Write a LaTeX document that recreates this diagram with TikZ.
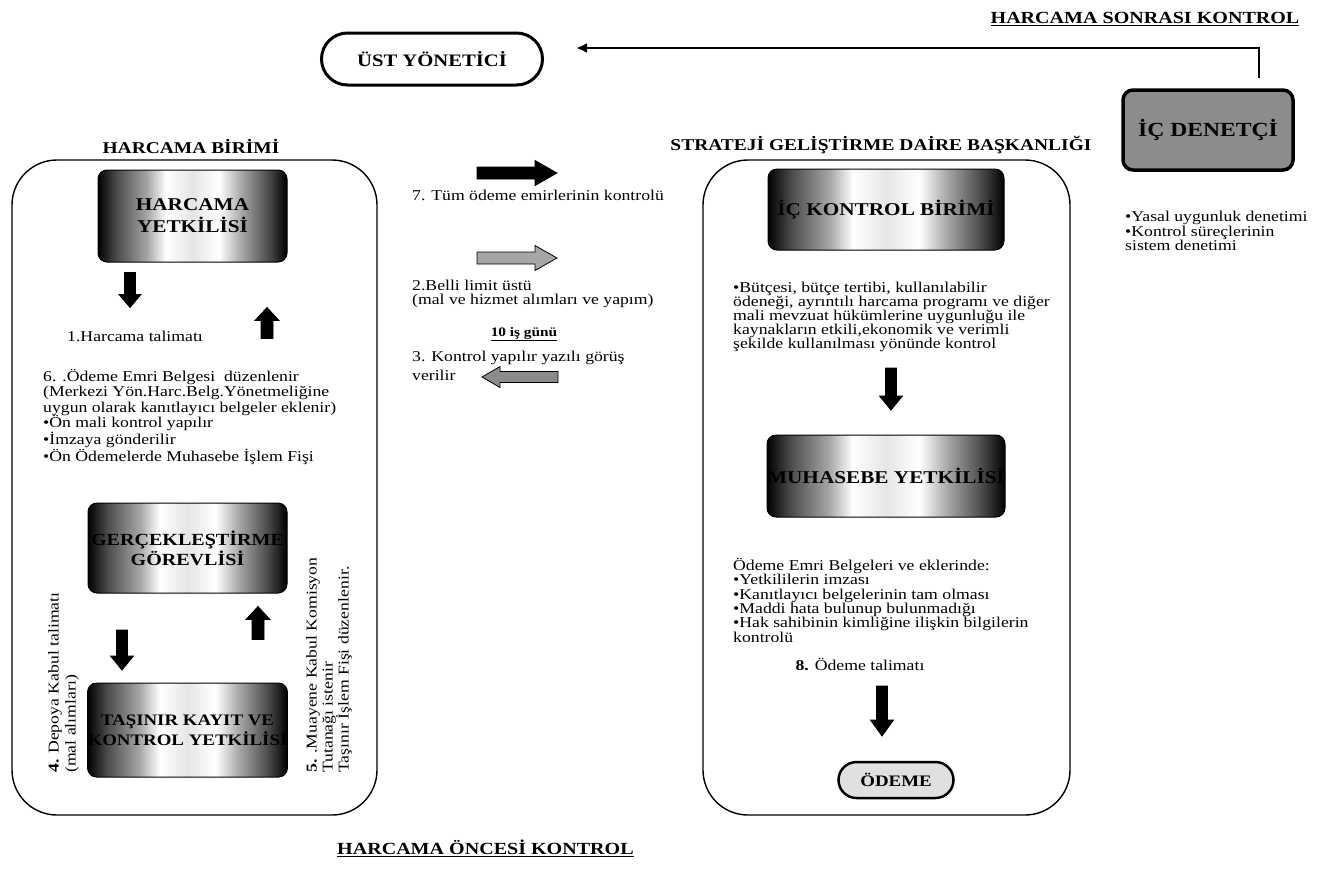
\documentclass[tikz,border=0pt]{standalone}
\usepackage{fontspec}
\setmainfont{Liberation Serif}[FakeStretch=1.18]
\usetikzlibrary{arrows.meta}
\pgfdeclarehorizontalshading{boxshade}{100bp}{color(0bp)=(black); color(25bp)=(black); color(30bp)=(black!70); color(38bp)=(black!35); color(43bp)=(white); color(50bp)=(black!10); color(57bp)=(white); color(63bp)=(black!35); color(70bp)=(black!70); color(75bp)=(black); color(100bp)=(black)}
\begin{document}
\begin{tikzpicture}[x=1pt,y=-1pt,
  sect/.style={draw=black, line width=1.4pt, rounded corners=45pt},
  gbox/.style={draw=black, line width=1pt, rounded corners=9pt, shade, shading=boxshade, align=center, inner sep=0pt, font=\fontsize{18}{22}\selectfont\bfseries},
  txt/.style={font=\fontsize{15}{15.5}\selectfont, align=left, inner sep=0pt},
  hdr/.style={font=\fontsize{16.5}{18}\selectfont\bfseries, inner sep=0pt},
  ttl/.style={font=\fontsize{17}{19}\selectfont\bfseries, inner sep=0pt},
  pill/.style={draw=black, align=center, inner sep=0pt},
  conn/.style={draw=black, line width=2.6pt, -{Latex[length=11pt,width=10pt]}},
  pics/blkarrow/.style n args={4}{code={
    \path[draw=black, line width=0.8pt, pic actions] (-#1/2,-#2/2) -- ({#1/2-#4},-#2/2) -- ({#1/2-#4},-#3/2) -- ({#1/2},0) -- ({#1/2-#4},#3/2) -- ({#1/2-#4},#2/2) -- (-#1/2,#2/2) -- cycle;
  }}
]
\useasboundingbox (0,0) rectangle (1332,873);
\fill[white] (0,0) rectangle (1332,873);

% top
\node[ttl] (tsonra) at (1145,19) {\underline{HARCAMA SONRASI KONTROL}};
\node[pill, line width=3pt, fill=white, rounded corners=26pt, minimum width=221pt, minimum height=52pt, font=\fontsize{17.5}{20}\selectfont\bfseries] (ust) at (432,59) {ÜST YÖNETİCİ};
\node[pill, line width=3.5pt, fill=black!45, rounded corners=10pt, minimum width=170pt, minimum height=80pt, font=\fontsize{20}{22}\selectfont\bfseries] (icd) at (1208,130) {İÇ DENETÇİ};
\draw[conn, shorten <=10pt] ([xshift=51pt]icd.north) |- ([xshift=32pt,yshift=11pt]ust.east);
\node[txt, anchor=north west, font=\fontsize{15}{14.5}\selectfont] (yasal) at (1125,211) {•Yasal uygunluk denetimi\\•Kontrol süreçlerinin\\sistem denetimi};

% headers and sections
\node[hdr] (hb) at (191,147) {HARCAMA BİRİMİ};
\node[hdr] (sg) at (881,145) {STRATEJİ GELİŞTİRME DAİRE BAŞKANLIĞI};
\node[sect, minimum width=365pt, minimum height=655pt] (lsec) at (194.5,487.5) {};
\node[sect, minimum width=367pt, minimum height=655pt] (rsec) at (886.5,487.5) {};

% left column
\node[gbox, minimum width=189pt, minimum height=92pt] (hy) at (192.5,216) {HARCAMA\\YETKİLİSİ};
\pic[rotate=-90, fill=black] (a1d) at (130,290) {blkarrow={35}{11}{22}{13}};
\pic[rotate=90, fill=black] (a1u) at (267,323) {blkarrow={31}{12}{24}{13}};
\node[txt, anchor=base west] (t1) at (67,341.5) {1.Harcama talimatı};
\node[txt, anchor=north west] (t6) at (43,369) {6. .Ödeme Emri Belgesi \ düzenlenir\\(Merkezi Yön.Harc.Belg.Yönetmeliğine\\uygun olarak kanıtlayıcı belgeler eklenir)\\•Ön mali kontrol yapılır\\•İmzaya gönderilir\\•Ön Ödemelerde Muhasebe İşlem Fişi};
\node[gbox, minimum width=199pt, minimum height=90pt, font=\fontsize{17}{20}\selectfont\bfseries] (gg) at (187.5,548) {GERÇEKLEŞTİRME\\GÖREVLİSİ};
\pic[rotate=-90, fill=black] (a4) at (122,650) {blkarrow={40}{11}{23}{14}};
\pic[rotate=90, fill=black] (a5) at (258,623) {blkarrow={33}{12}{24}{13}};
\node[gbox, minimum width=199pt, minimum height=94pt, font=\fontsize{16}{20}\selectfont\bfseries] (tk) at (187.5,730) {TAŞINIR KAYIT VE\\KONTROL YETKİLİSİ};
\node[txt, rotate=90, anchor=north west, font=\fontsize{15}{17}\selectfont] (t4) at (48,773) {\textbf{4.} Depoya Kabul talimatı\\(mal alımları)};
\node[txt, rotate=90, anchor=north west, font=\fontsize{15}{16}\selectfont] (t5) at (306,773) {\textbf{5.} .Muayene Kabul Komisyon\\Tutanağı istenir\\Taşınır İşlem Fişi düzenlenir.};

% middle
\pic[fill=black] (m7) at (517,173) {blkarrow={80}{12}{25}{22}};
\node[txt, anchor=base west] (t7) at (412,200) {7. Tüm ödeme emirlerinin kontrolü};
\pic[fill=black!35] (m2) at (517,258) {blkarrow={80}{12}{25}{22}};
\node[txt, anchor=north west, font=\fontsize{15}{13.5}\selectfont] (t2) at (412,280) {2.Belli limit üstü\\(mal ve hizmet alımları ve yapım)};
\node[txt, anchor=base, font=\fontsize{13}{15}\selectfont\bfseries] (t10) at (524,336) {\underline{10 iş günü}};
\node[txt, anchor=base west] (t3) at (412,361.5) {3. Kontrol yapılır yazılı görüş};
\node[txt, anchor=base west] (t3b) at (412,380.5) {verilir};
\pic[rotate=180, fill=black!45] (m3) at (520,377) {blkarrow={76}{11}{21}{18}};

% right column
\node[gbox, minimum width=236pt, minimum height=81pt] (ikb) at (886,209.5) {İÇ KONTROL BİRİMİ};
\node[txt, anchor=north west, font=\fontsize{15}{14}\selectfont] (tb) at (733,282) {•Bütçesi, bütçe tertibi, kullanılabilir\\ödeneği, ayrıntılı harcama programı ve diğer\\mali mevzuat hükümlerine uygunluğu ile\\kaynakların etkili,ekonomik ve verimli\\şekilde kullanılması yönünde kontrol};
\pic[rotate=-90, fill=black] (ar1) at (891,389) {blkarrow={42}{11}{23}{14}};
\node[gbox, minimum width=238pt, minimum height=82pt] (my) at (886,476) {MUHASEBE YETKİLİSİ};
\node[txt, anchor=north west, font=\fontsize{15}{14.4}\selectfont] (to) at (733,558) {Ödeme Emri Belgeleri ve eklerinde:\\•Yetkililerin imzası\\•Kanıtlayıcı belgelerinin tam olması\\•Maddi hata bulunup bulunmadığı\\•Hak sahibinin kimliğine ilişkin bilgilerin\\kontrolü};
\node[txt, anchor=base] (t8) at (860,670.5) {\textbf{8.} Ödeme talimatı};
\pic[rotate=-90, fill=black] (ar2) at (882,711) {blkarrow={50}{11}{23}{16}};
\node[pill, line width=2.5pt, fill=black!12, rounded corners=18pt, minimum width=115pt, minimum height=36pt, font=\fontsize{16}{18}\selectfont\bfseries] (od) at (896,780) {ÖDEME};

% bottom
\node[ttl, anchor=west] (tonce) at (337,848) {\underline{HARCAMA ÖNCESİ KONTROL}};
\end{tikzpicture}
\end{document}
